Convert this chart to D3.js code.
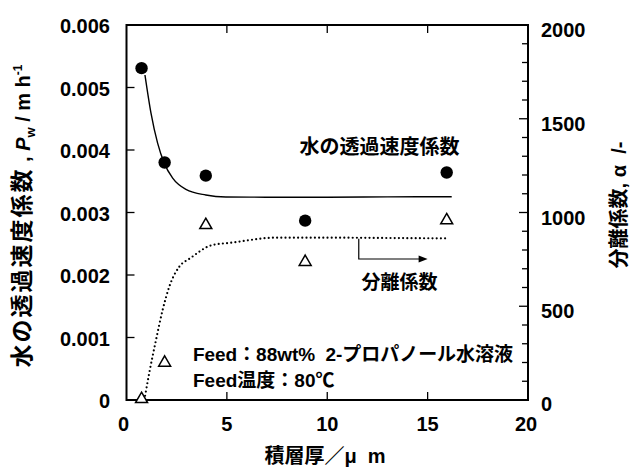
<!DOCTYPE html>
<html>
<head>
<meta charset="utf-8">
<script src="https://cdn.jsdelivr.net/npm/d3@7"></script>
<style>
  body { margin: 0; background: #fff; }
  svg text { font-family: "Liberation Sans", Arial, "Noto Sans CJK JP", sans-serif; fill: #000; white-space: pre; font-weight: bold; }
</style>
</head>
<body>
<svg id="chart" width="632" height="468"></svg>
<script>
// measured points
var thickness = [0.75, 1.9, 3.95, 8.9, 15.95];
var pwValues = [0.00531, 0.00380, 0.00359, 0.00287, 0.00364];
var alphaValues = [5, 199, 933, 736, 958];

// fitted curves
var pwFitX = [0.92, 1.22, 1.55, 1.88, 2.3, 2.96, 3.95, 4.95, 6.94, 10, 13, 16.2];
var pwFitY = [0.0052, 0.00459, 0.00411, 0.00379, 0.00355, 0.00337, 0.00328, 0.003248, 0.003245, 0.003245, 0.00325, 0.003253];
var alphaFitX = [0.89, 1.13, 1.47, 1.8, 2.13, 2.63, 3.16, 4.29, 5.15, 7.47, 10, 13, 15.9];
var alphaFitY = [0, 142, 320, 480, 604, 711, 755, 827, 838, 866, 866, 864, 862];

var xTicks = [0, 5, 10, 15, 20];
var pwTicks = [0, 0.001, 0.002, 0.003, 0.004, 0.005, 0.006];
var alphaTicks = [0, 500, 1000, 1500, 2000];
var alphaMinor = d3.range(0, 2001, 100);

var plotLeft = 126.5, plotRight = 528, plotTop = 25, plotBottom = 400;
var FONT = 20;

var svg = d3.select("#chart");
var x = d3.scaleLinear().domain([0, 20]).range([plotLeft, plotRight]);
var yL = d3.scaleLinear().domain([0, 0.006]).range([plotBottom, plotTop]);
var yR = d3.scaleLinear().domain([0, 2000]).range([plotBottom, plotTop]);

var zipped = function(xs, ys) {
  return xs.map(function(v, i) { return [v, ys[i]]; });
}

// frame
svg.append("rect")
  .attr("x", plotLeft).attr("y", plotTop)
  .attr("width", plotRight - plotLeft).attr("height", plotBottom - plotTop)
  .attr("fill", "none").attr("stroke", "#000").attr("stroke-width", 2);

// ticks, all pointing inward
var tickG = svg.append("g").attr("stroke", "#000").attr("stroke-width", 1.3);
xTicks.slice(1, -1).forEach(function(t) {
  tickG.append("line").attr("x1", x(t)).attr("x2", x(t)).attr("y1", plotBottom).attr("y2", plotBottom - 8);
  tickG.append("line").attr("x1", x(t)).attr("x2", x(t)).attr("y1", plotTop).attr("y2", plotTop + 8);
});
pwTicks.slice(1, -1).forEach(function(t) {
  tickG.append("line").attr("x1", plotLeft).attr("x2", plotLeft + 8).attr("y1", yL(t)).attr("y2", yL(t));
});
alphaMinor.slice(1, -1).forEach(function(t) {
  var len = (t % 500 == 0) ? 9 : 6;
  tickG.append("line").attr("x1", plotRight).attr("x2", plotRight - len).attr("y1", yR(t)).attr("y2", yR(t));
});

// tick labels
svg.selectAll(".xl").data(xTicks).enter().append("text")
  .attr("x", function(d) { return x(d) - (d == 20 ? 2 : 0) - (d == 0 ? 3 : 0); })
  .attr("y", 431)
  .attr("text-anchor", "middle")
  .attr("font-size", FONT)
  .text(function(d) { return d; });

svg.selectAll(".yl").data(pwTicks).enter().append("text")
  .attr("x", 110)
  .attr("y", function(d) { return yL(d) + 8; })
  .attr("text-anchor", "end")
  .attr("font-size", FONT)
  .text(function(d) { return d; });

svg.selectAll(".yr").data(alphaTicks).enter().append("text")
  .attr("x", 541)
  .attr("y", function(d) { return yR(d) + (d == 0 ? 11 : 12); })
  .attr("font-size", FONT)
  .text(function(d) { return d; });

// axis titles
svg.append("text")
  .attr("x", 325).attr("y", 463)
  .attr("text-anchor", "middle")
  .attr("font-size", FONT)
  .text("積層厚／μ  m");

var lt = svg.append("text")
  .attr("transform", "translate(30,216) rotate(-90)")
  .attr("text-anchor", "middle")
  .attr("font-size", FONT);
lt.append("tspan").attr("font-size", 23).attr("letter-spacing", 2).text("水の透過速度係数");
lt.append("tspan").text(" , ");
lt.append("tspan").attr("font-style", "italic").text("P");
lt.append("tspan").attr("font-size", 13).attr("dy", 5).text("w");
lt.append("tspan").attr("dy", -5).text(" / m h");
lt.append("tspan").attr("font-size", 12).attr("dy", -8).text("-1");

svg.append("text")
  .attr("transform", "translate(626,205) rotate(-90)")
  .attr("text-anchor", "middle")
  .attr("font-size", FONT)
  .text("分離係数, α  /-");

// fitted curves
var lineL = d3.line()
  .x(function(d) { return x(d[0]); })
  .y(function(d) { return yL(d[1]); })
  .curve(d3.curveMonotoneX);
var lineR = d3.line()
  .x(function(d) { return x(d[0]); })
  .y(function(d) { return yR(d[1]); })
  .curve(d3.curveMonotoneX);

svg.append("path")
  .attr("d", lineL(zipped(pwFitX, pwFitY)))
  .attr("fill", "none").attr("stroke", "#000").attr("stroke-width", 1.4);

svg.append("path")
  .attr("d", lineR(zipped(alphaFitX, alphaFitY)))
  .attr("fill", "none").attr("stroke", "#000").attr("stroke-width", 2.2)
  .attr("stroke-linecap", "round").attr("stroke-dasharray", "0,4.2");

// markers
svg.selectAll(".pw").data(zipped(thickness, pwValues)).enter().append("circle")
  .attr("cx", function(d) { return x(d[0]); })
  .attr("cy", function(d) { return yL(d[1]); })
  .attr("r", 6.2)
  .attr("fill", "#000");

var tri = d3.symbol().type(d3.symbolTriangle).size(62);
svg.selectAll(".al").data(zipped(thickness, alphaValues)).enter().append("path")
  .attr("transform", function(d) { return "translate(" + x(d[0]) + "," + yR(d[1]) + ")"; })
  .attr("d", tri())
  .attr("fill", "#fff").attr("stroke", "#000").attr("stroke-width", 1.5);

// annotations
svg.append("text")
  .attr("x", x(12.6)).attr("y", 154)
  .attr("text-anchor", "middle")
  .attr("font-size", FONT)
  .text("水の透過速度係数");

var ax = x(11.57);
svg.append("path")
  .attr("d", "M" + ax + "," + yR(860) + "V" + yR(752) + "H" + (x(15.0) - 7))
  .attr("fill", "none").attr("stroke", "#000").attr("stroke-width", 1.2);
svg.append("path")
  .attr("d", "M" + x(15.0) + "," + yR(752) + "l-9,-3.5v7z")
  .attr("fill", "#000");

svg.append("text")
  .attr("x", x(13.6)).attr("y", 289)
  .attr("text-anchor", "middle")
  .attr("font-size", FONT - 1)
  .text("分離係数");

svg.append("text")
  .attr("x", 193).attr("y", 361)
  .attr("font-size", FONT - 1)
  .attr("textLength", 320)
  .text("Feed：88wt%  2-プロパノール水溶液");
svg.append("text")
  .attr("x", 193).attr("y", 387)
  .attr("font-size", FONT - 1)
  .text("Feed温度：80℃");
</script>
</body>
</html>
